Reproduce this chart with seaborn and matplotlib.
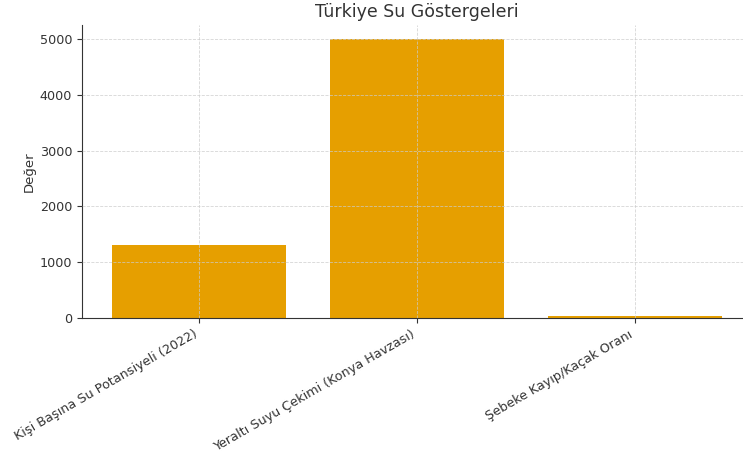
import pandas as pd
import matplotlib
matplotlib.use('Agg')
import matplotlib.pyplot as plt
import seaborn as sns

# Göstergeler ve değerleri
categories = ['Kişi Başına Su Potansiyeli (2022)',
              'Yeraltı Suyu Çekimi (Konya Havzası)',
              'Şebeke Kayıp/Kaçak Oranı']
values = [1300, 5000, 40]

df = pd.DataFrame({'Gösterge': categories, 'Değer': values})

sns.set_style('ticks')
plt.rcParams['font.family'] = ['DejaVu Sans']
text_color = '#333333'

fig = plt.figure(figsize=(7.43, 4.54), dpi=100)
ax = fig.add_axes([82 / 743, 1 - 318 / 454, (752 - 82) / 743, (318 - 25) / 454])

sns.barplot(data=df, x='Gösterge', y='Değer', color='#E69F00', saturation=1,
            width=0.8, linewidth=0, ax=ax)

ax.set_title('Türkiye Su Göstergeleri', fontsize=12.5, color=text_color)
ax.set_xlabel('')
ax.set_ylabel('Değer', fontsize=9.5, color=text_color, labelpad=3)
ax.set_xlim(-0.54, 2.54)
ax.set_ylim(0, 5250)
ax.set_yticks([0, 1000, 2000, 3000, 4000, 5000])

ax.set_axisbelow(False)
ax.grid(True, linestyle='--', linewidth=0.6, color='#cccccc', alpha=0.8)

plt.setp(ax.get_xticklabels(), rotation=30, ha='right')
ax.tick_params(colors=text_color, labelsize=9.2)
for side in ['top', 'right']:
    ax.spines[side].set_visible(False)
for side in ['left', 'bottom']:
    ax.spines[side].set_color('#333333')

fig.savefig('out.png', dpi=100)
